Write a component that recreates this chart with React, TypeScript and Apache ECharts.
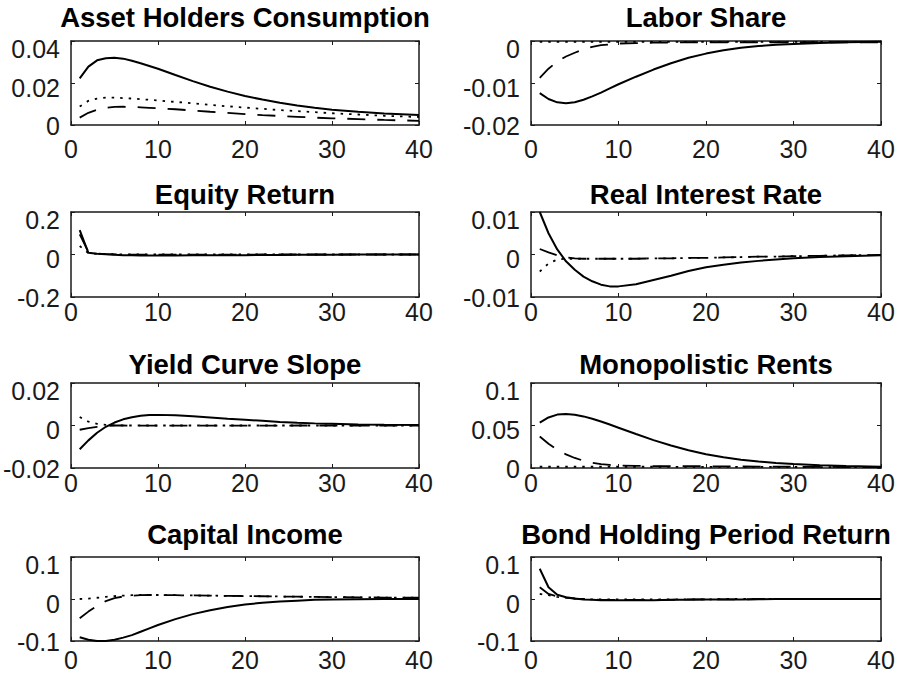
import React, { useEffect, useRef } from "react";
import * as echarts from "echarts";

// Horizon (periods) shared by all panels
const periods = [1, 2, 3, 4, 5, 6, 7, 8, 9, 10, 12, 14, 16, 18, 20, 22, 24, 26, 28, 30, 33, 36, 40];

const titles = [
  "Asset Holders Consumption",
  "Labor Share",
  "Equity Return",
  "Real Interest Rate",
  "Yield Curve Slope",
  "Monopolistic Rents",
  "Capital Income",
  "Bond Holding Period Return",
];

// y-axis ranges [min, max, interval]
const yRanges = [
  [0, 0.04, 0.02],
  [-0.02, 0, 0.01],
  [-0.2, 0.2, 0.2],
  [-0.01, 0.01, 0.01],
  [-0.02, 0.02, 0.02],
  [0, 0.1, 0.05],
  [-0.1, 0.1, 0.1],
  [-0.1, 0.1, 0.1],
];
const xTicks = [0, 40, 10];

// Asset Holders Consumption
const ahcSolid = [0.0222, 0.0278, 0.0308, 0.0318, 0.032, 0.0316, 0.0306, 0.0294, 0.0281, 0.0268, 0.0238, 0.0209, 0.0182, 0.0159, 0.0138, 0.0121, 0.0106, 0.0093, 0.0082, 0.0073, 0.0063, 0.0055, 0.0048];
const ahcDashed = [0.0035, 0.0058, 0.0073, 0.0082, 0.0086, 0.0087, 0.0086, 0.0084, 0.0082, 0.008, 0.0075, 0.0069, 0.0063, 0.0058, 0.0052, 0.0047, 0.0043, 0.0039, 0.0035, 0.0032, 0.0028, 0.0024, 0.002];
const ahcDotted = [0.0088, 0.0115, 0.0126, 0.013, 0.013, 0.0128, 0.0126, 0.0123, 0.012, 0.0117, 0.011, 0.0103, 0.0096, 0.0089, 0.0083, 0.0077, 0.0071, 0.0066, 0.0061, 0.0056, 0.005, 0.0044, 0.0038];

// Labor Share
const lsSolid = [-0.0124, -0.0138, -0.0146, -0.0148, -0.0146, -0.014, -0.0132, -0.0123, -0.0113, -0.0103, -0.0085, -0.0068, -0.0053, -0.004, -0.003, -0.0022, -0.0016, -0.0012, -0.0009, -0.0007, -0.0005, -0.0003, -0.0002];
const lsDashed = [-0.0088, -0.0066, -0.0049, -0.0037, -0.0028, -0.002, -0.0014, -0.001, -0.0008, -0.0006, -0.0005, -0.0004, -0.0004, -0.0003, -0.0003, -0.0003, -0.0003, -0.0003, -0.0003, -0.0003, -0.0003, -0.0003, -0.0003];
const lsDotted = [-0.0002, -0.0002, -0.0002, -0.0002, -0.0002, -0.0002, -0.0002, -0.0002, -0.0002, -0.0002, -0.0002, -0.0002, -0.0002, -0.0002, -0.0002, -0.0002, -0.0002, -0.0002, -0.0002, -0.0002, -0.0002, -0.0002, -0.0002];

// Equity Return
const erSolid = [0.115, 0.008, 0.003, 0.001, -0.001, -0.003, -0.004, -0.005, -0.005, -0.005, -0.005, -0.004, -0.004, -0.003, -0.003, -0.002, -0.002, -0.001, -0.001, -0.001, 0, 0, 0];
const erDashed = [0.095, 0.012, 0.004, 0.002, 0.001, 0, -0.001, -0.001, -0.001, -0.001, -0.001, -0.001, -0.001, -0.001, -0.001, 0, 0, 0, 0, 0, 0, 0, 0];
const erDotted = [0.04, 0.006, 0.003, 0.002, 0.001, 0.001, 0, 0, 0, 0, 0, 0, 0, 0, 0, 0, 0, 0, 0, 0, 0, 0, 0];

// Real Interest Rate
const rirSolid = [0.01, 0.005, 0.0012, -0.0016, -0.0036, -0.0052, -0.0063, -0.0071, -0.0075, -0.0075, -0.007, -0.006, -0.005, -0.0039, -0.003, -0.0024, -0.0019, -0.0015, -0.0012, -0.0009, -0.0006, -0.0004, -0.0002];
const rirDashed = [0.0013, 0.0005, -0.0002, -0.0007, -0.0009, -0.001, -0.001, -0.001, -0.001, -0.001, -0.001, -0.0009, -0.0009, -0.0008, -0.0008, -0.0007, -0.0006, -0.0005, -0.0005, -0.0004, -0.0003, -0.0002, -0.0001];
const rirDotted = [-0.004, -0.0021, -0.0012, -0.001, -0.001, -0.001, -0.001, -0.001, -0.001, -0.001, -0.001, -0.0009, -0.0009, -0.0008, -0.0008, -0.0007, -0.0006, -0.0005, -0.0005, -0.0004, -0.0003, -0.0002, -0.0001];

// Yield Curve Slope
const ycsSolid = [-0.0112, -0.007, -0.0034, -0.0006, 0.0014, 0.0029, 0.0039, 0.0046, 0.0049, 0.005, 0.0048, 0.0044, 0.0038, 0.0032, 0.0027, 0.0022, 0.0017, 0.0013, 0.001, 0.0008, 0.0005, 0.0003, 0.0002];
const ycsDashed = [-0.002, -0.0012, -0.0006, -0.0002, 0, 0, -0.0001, -0.0001, -0.0001, -0.0001, -0.0001, -0.0001, -0.0001, -0.0001, -0.0001, -0.0001, -0.0001, 0, 0, 0, 0, 0, 0];
const ycsDotted = [0.004, 0.0018, 0.0008, 0.0003, 0.0001, 0, 0, 0, 0, 0, 0, 0, 0, 0, 0, 0, 0, 0, 0, 0, 0, 0, 0];

// Monopolistic Rents
const mrSolid = [0.0535, 0.0595, 0.0628, 0.0635, 0.0627, 0.0607, 0.058, 0.0547, 0.0511, 0.0474, 0.04, 0.0328, 0.0264, 0.0208, 0.0162, 0.0126, 0.0098, 0.0077, 0.006, 0.0047, 0.0033, 0.0023, 0.0014];
const mrDashed = [0.037, 0.0285, 0.0215, 0.016, 0.0118, 0.0085, 0.0062, 0.0046, 0.0036, 0.003, 0.0025, 0.0023, 0.0022, 0.0021, 0.002, 0.0019, 0.0018, 0.0017, 0.0016, 0.0015, 0.0013, 0.0012, 0.001];
const mrDotted = [0.0015, 0.0015, 0.0015, 0.0015, 0.0015, 0.0015, 0.0015, 0.0015, 0.0015, 0.0015, 0.0015, 0.0015, 0.0014, 0.0014, 0.0014, 0.0013, 0.0013, 0.0013, 0.0012, 0.0012, 0.0011, 0.0011, 0.001];

// Capital Income
const ciSolid = [-0.091, -0.097, -0.1, -0.1, -0.097, -0.092, -0.086, -0.078, -0.07, -0.062, -0.048, -0.036, -0.027, -0.019, -0.013, -0.009, -0.006, -0.004, -0.002, -0.001, -0.0005, 0, 0];
const ciDashed = [-0.046, -0.03, -0.016, -0.005, 0.002, 0.006, 0.008, 0.009, 0.0095, 0.0095, 0.009, 0.0085, 0.008, 0.0075, 0.007, 0.0065, 0.006, 0.0055, 0.005, 0.0045, 0.004, 0.0035, 0.003];
const ciDotted = [0, 0.001, 0.003, 0.005, 0.007, 0.008, 0.009, 0.0095, 0.0095, 0.0095, 0.009, 0.0085, 0.008, 0.0075, 0.007, 0.0065, 0.006, 0.0055, 0.005, 0.0045, 0.004, 0.0035, 0.003];

// Bond Holding Period Return
const bhSolid = [0.072, 0.028, 0.01, 0.004, 0.001, -0.001, -0.002, -0.003, -0.003, -0.003, -0.003, -0.003, -0.002, -0.002, -0.001, -0.001, -0.001, -0.0005, 0, 0, 0, 0, 0];
const bhDashed = [0.028, 0.012, 0.006, 0.003, 0.001, 0, -0.001, -0.002, -0.002, -0.002, -0.002, -0.002, -0.002, -0.001, -0.001, -0.001, -0.001, 0, 0, 0, 0, 0, 0];
const bhDotted = [0.012, 0.009, 0.005, 0.003, 0.001, 0, -0.001, -0.001, -0.001, -0.001, -0.001, -0.001, -0.001, -0.001, -0.001, 0, 0, 0, 0, 0, 0, 0, 0];

const panelSeries = [
  [ahcSolid, ahcDashed, ahcDotted],
  [lsSolid, lsDashed, lsDotted],
  [erSolid, erDashed, erDotted],
  [rirSolid, rirDashed, rirDotted],
  [ycsSolid, ycsDashed, ycsDotted],
  [mrSolid, mrDashed, mrDotted],
  [ciSolid, ciDashed, ciDotted],
  [bhSolid, bhDashed, bhDotted],
];

// Layout (pixels)
const colLeft = [71, 531];
const colWidth = [348, 350];
const rowTop = [41, 212, 383, 557];
const rowHeight = [84, 85, 85, 84];
const titleY = [17, 194, 364, 534];
const xLabelMargin = [11, 2, 2, 6];

const FONT = '"Liberation Sans", Arial, Helvetica, sans-serif';
const AX = "#1a1a1a";

function fmt(v: number): string {
  const n = Number(v.toPrecision(8));
  return String(n);
}

export default function App() {
  const ref = useRef<HTMLDivElement>(null);
  useEffect(() => {
    if (!ref.current) return;
    const chart = echarts.init(ref.current, undefined, { renderer: "svg" });
    const grids: any[] = [];
    const xAxes: any[] = [];
    const yAxes: any[] = [];
    const series: any[] = [];
    const graphics: any[] = [];
    const lineTypes: any[] = ["solid", [18, 12], [2.5, 6]];
    const labelBase = { fontSize: 25, fontFamily: FONT, color: AX };

    for (let i = 0; i < 8; i++) {
      const r = Math.floor(i / 2);
      const c = i % 2;
      grids.push({
        left: colLeft[c],
        top: rowTop[r],
        width: colWidth[c],
        height: rowHeight[r],
        show: false,
        containLabel: false,
      });
      const axisLine = { show: true, onZero: false, lineStyle: { color: AX, width: 1.5 } };
      const axisTick = { show: true, inside: true, length: 4, lineStyle: { color: AX, width: 1 } };
      const baseX = {
        type: "value",
        gridIndex: i,
        min: xTicks[0],
        max: xTicks[1],
        interval: xTicks[2],
        axisLine,
        axisTick,
        splitLine: { show: false },
      };
      xAxes.push({
        ...baseX,
        position: "bottom",
        axisLabel: { show: true, ...labelBase, margin: xLabelMargin[r] },
      });
      xAxes.push({ ...baseX, position: "top", axisLabel: { show: false } });
      const [ymin, ymax, yint] = yRanges[i];
      const baseY = {
        type: "value",
        gridIndex: i,
        min: ymin,
        max: ymax,
        interval: yint,
        axisLine,
        axisTick,
        splitLine: { show: false },
      };
      yAxes.push({
        ...baseY,
        position: "left",
        axisLabel: {
          show: true,
          ...labelBase,
          margin: 11,
          formatter: (v: number, idx: number) => `{p${idx}|${fmt(v)}}`,
          rich: {
            p0: { ...labelBase, padding: [2, 0, 0, 0] },
            p1: { ...labelBase, padding: [9, 0, 0, 0] },
            p2: { ...labelBase, padding: [15, 0, 0, 0] },
          },
        },
      });
      yAxes.push({ ...baseY, position: "right", axisLabel: { show: false } });

      const cols = panelSeries[i];
      for (let s = 2; s >= 0; s--) {
        series.push({
          type: "line",
          xAxisIndex: 2 * i,
          yAxisIndex: 2 * i,
          data: periods.map((p, k) => [p, cols[s][k]]),
          showSymbol: false,
          symbol: "none",
          silent: true,
          lineStyle: {
            color: "#000",
            width: s === 0 ? 2 : 1.8,
            type: lineTypes[s],
            cap: "butt",
          },
        });
      }

      graphics.push({
        type: "text",
        x: colLeft[c] + colWidth[c] / 2,
        y: titleY[r],
        style: {
          text: titles[i],
          font: `bold 27.5px ${FONT}`,
          fill: "#000",
          align: "center",
          verticalAlign: "middle",
        },
      });
    }

    chart.setOption({
      animation: false,
      backgroundColor: "#fff",
      grid: grids,
      xAxis: xAxes,
      yAxis: yAxes,
      series,
      graphic: graphics,
    });
    return () => chart.dispose();
  }, []);

  return (
    <div
      ref={ref}
      style={{ position: "absolute", left: 0, top: 0, width: 898, height: 685, background: "#fff" }}
    />
  );
}
